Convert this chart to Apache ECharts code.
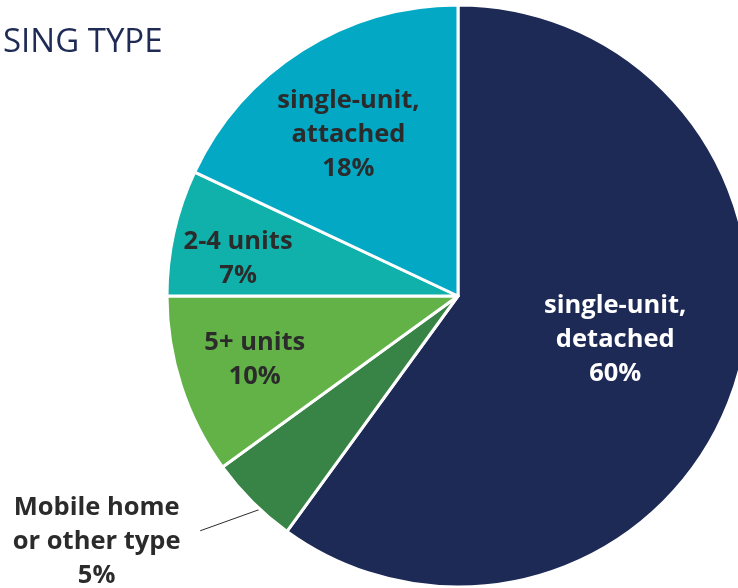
<!DOCTYPE html>
<html>
<head>
<meta charset="utf-8">
<script src="https://cdn.jsdelivr.net/npm/echarts@6/dist/echarts.min.js"></script>
<style>
html,body{margin:0;padding:0;background:#fff;}
#chart{width:738px;height:588px;}
</style>
</head>
<body>
<div id="chart"></div>
<script>
const titleText = 'SING TYPE';
const categories = ['single-unit,\ndetached', 'Mobile home\nor other type', '5+ units', '2-4 units', 'single-unit,\nattached'];
const values = [60, 5, 10, 7, 18];
const colors = ['#1e2a56', '#388446', '#62b247', '#10b1aa', '#03a8c5'];
const labelColors = ['#ffffff', '#2b2b2b', '#2b2b2b', '#2b2b2b', '#2b2b2b'];
// label nudges relative to default label anchor
const labelShift = [[16, -2], [-125, 29], [-62, 18], [-75, -5], [-30, -36]];

const chart = echarts.init(document.getElementById('chart'), null, {renderer: 'canvas'});
const font = '"Open Sans", "Noto Sans", sans-serif';
chart.setOption({
  backgroundColor: '#ffffff',
  animation: false,
  title: {
    text: titleText,
    left: -2,
    top: 21,
    textStyle: {fontFamily: font, fontSize: 33, fontWeight: 'normal', color: '#1f2b55'}
  },
  series: [{
    type: 'pie',
    center: [458, 296],
    radius: [0, 291],
    startAngle: 90,
    clockwise: true,
    avoidLabelOverlap: false,
    itemStyle: {borderColor: '#ffffff', borderWidth: 3},
    label: {
      position: 'inside',
      fontFamily: font,
      fontSize: 25.5,
      fontWeight: 'bold',
      lineHeight: 34,
      align: 'center',
      formatter: p => p.name + '\n' + p.value + '%'
    },
    labelLayout: p => {
      const s = labelShift[p.dataIndex];
      const out = {dx: s[0], dy: s[1], align: 'center'};
      if (p.dataIndex === 1 && p.labelLinePoints) {
        const start = p.labelLinePoints[0];
        out.labelLinePoints = [
          [start[0] + 26, start[1] + 1],
          [start[0] - 52, start[1] + 29]
        ];
      }
      return out;
    },
    data: categories.map((c, i) => ({
      name: c,
      value: values[i],
      itemStyle: {color: colors[i]},
      label: i === 1 ? {position: 'outside', color: labelColors[i]} : {color: labelColors[i]},
      labelLine: i === 1 ? {show: true, length: 15, length2: 15, lineStyle: {color: '#2b2b2b', width: 1}} : {show: false}
    }))
  }]
});
</script>
</body>
</html>
